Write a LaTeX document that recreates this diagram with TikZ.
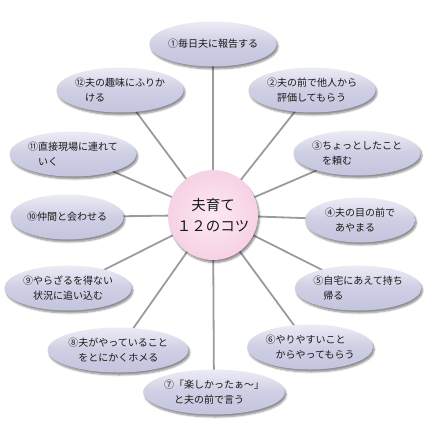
\documentclass[tikz,border=0pt]{standalone}
\usepackage{fontspec}
\newfontfamily\jp{Noto Sans CJK JP}
\usetikzlibrary{shapes.geometric,shadows.blur,backgrounds}
\definecolor{lav}{RGB}{196,196,222}
\definecolor{lavtop}{RGB}{236,236,246}
\definecolor{pinkin}{RGB}{253,232,242}
\definecolor{pinkout}{RGB}{246,210,228}
\definecolor{spoke}{RGB}{155,155,155}
\begin{document}
\begin{tikzpicture}[x=1pt,y=-1pt,
  tip/.style={ellipse, minimum width=110pt, minimum height=45pt, inner sep=0pt,
    top color=lavtop, bottom color=lav, middle color=lav!75!lavtop,
    blur shadow={shadow blur steps=6, shadow xshift=1.5pt, shadow yshift=-2.5pt, shadow opacity=45},
    font=\jp\fontsize{10}{15}\selectfont, align=left, text=black!90},
  hub/.style={circle, minimum size=90pt, inner sep=0pt, inner color=pinkin, outer color=pinkout,
    blur shadow={shadow blur steps=6, shadow xshift=1.5pt, shadow yshift=-2.5pt, shadow opacity=45},
    font=\jp\fontsize{14.5}{21}\selectfont, align=center, text=black!90},
  spk/.style={draw=spoke, line width=1.8pt}]
\useasboundingbox (0,0) rectangle (433,433);
\node[hub] (c) at (213,215) {夫育て\\１２のコツ};
\node[tip] (n1) at (213,44) {①毎日夫に報告する};
\node[tip] (n2) at (312,90) {②夫の前で他人から\\\hspace*{1em}評価してもらう};
\node[tip] (n3) at (357,153) {③ちょっとしたこと\\\hspace*{1em}を頼む};
\node[tip] (n4) at (360,220) {④夫の目の前で\\\hspace*{1em}あやまる};
\node[tip] (n5) at (358,288) {⑤自宅にあえて持ち\\\hspace*{1em}帰る};
\node[tip] (n6) at (310,347) {⑥やりやすいこと\\\hspace*{1em}からやってもらう};
\node[tip] (n7) at (214,392) {⑦「楽しかったぁ～」\\\hspace*{1em}と夫の前で言う};
\node[tip] (n8) at (118,350) {⑧夫がやっていること\\\hspace*{1em}をとにかくホメる};
\node[tip] (n9) at (68,288) {⑨やらざるを得ない\\\hspace*{1em}状況に追い込む};
\node[tip] (n10) at (67,217) {⑩仲間と会わせる};
\node[tip] (n11) at (73,154) {⑪直接現場に連れて\\\hspace*{1em}いく};
\node[tip] (n12) at (120,90) {⑫夫の趣味にふりか\\\hspace*{1em}ける};
\begin{scope}[on background layer]
\foreach \n in {n1,n2,n3,n4,n5,n6,n7,n8,n9,n10,n11,n12}
  \draw[spk] (c.center) -- (\n.center);
\end{scope}
\end{tikzpicture}
\end{document}
